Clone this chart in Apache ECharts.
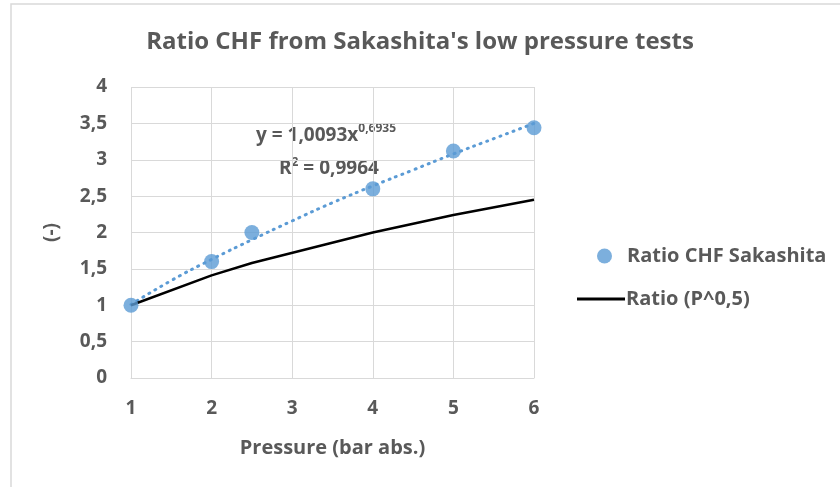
<!DOCTYPE html>
<html>
<head>
<meta charset="utf-8">
<script src="https://cdn.jsdelivr.net/npm/echarts@6/dist/echarts.min.js"></script>
<style>
html,body{margin:0;padding:0;background:#fff;}
#chart{width:840px;height:487px;}
</style>
</head>
<body>
<div id="chart"></div>
<script>
// measured points
const pressure = [1, 2, 2.5, 4, 5, 6]
const ratioChf = [1.0, 1.6, 2.0, 2.6, 3.12, 3.44]
// P^0.5 curve
const ratioSqrt = [1.0, 1.41, 1.58, 2.0, 2.24, 2.45]
// power trendline
const trendX = [1, 1.5, 2, 2.5, 3, 3.5, 4, 4.5, 5, 5.5, 6]
const trendY = [1.01, 1.34, 1.63, 1.9, 2.16, 2.41, 2.64, 2.86, 3.08, 3.29, 3.5]

const txt = '#595959'
const font = '"Open Sans", sans-serif'

const chart = echarts.init(document.getElementById('chart'))
chart.setOption({
  animation: false,
  title: {
    text: "Ratio CHF from Sakashita's low pressure tests",
    left: 'center',
    top: 25,
    textStyle: {color: txt, fontSize: 24, fontWeight: 'bold', fontFamily: font}
  },
  grid: {left: 131, right: 306, top: 87, bottom: 109},
  xAxis: {
    type: 'value',
    min: 1, max: 6, interval: 1,
    name: 'Pressure (bar abs.)',
    nameLocation: 'middle',
    nameGap: 60,
    nameTextStyle: {color: txt, fontSize: 20, fontWeight: 'bold', fontFamily: font},
    axisLine: {lineStyle: {color: '#d9d9d9'}},
    axisTick: {show: false},
    axisLabel: {color: txt, fontSize: 19, fontWeight: 'bold', fontFamily: font, margin: 21},
    splitLine: {lineStyle: {color: '#d9d9d9'}}
  },
  yAxis: {
    type: 'value',
    min: 0, max: 4, interval: 0.5,
    name: '(-)',
    nameLocation: 'middle',
    nameGap: 70,
    nameRotate: 90,
    nameTextStyle: {color: txt, fontSize: 19, fontWeight: 'bold', fontFamily: font},
    axisLine: {show: false},
    axisTick: {show: false},
    axisLabel: {
      color: txt, fontSize: 19, fontWeight: 'bold', fontFamily: font, margin: 24,
      formatter: v => String(v).replace('.', ',')
    },
    splitLine: {lineStyle: {color: '#d9d9d9'}}
  },
  legend: [
    {
      data: ['Ratio CHF Sakashita'],
      left: 592, top: 241,
      icon: 'circle',
      itemWidth: 15, itemHeight: 15, itemGap: 0,
      textStyle: {color: txt, fontSize: 20, fontWeight: 'bold', fontFamily: font, padding: [0, 0, 0, 10]}
    },
    {
      data: [{name: 'Ratio (P^0,5)', icon: 'rect'}],
      left: 572, top: 284,
      itemWidth: 48, itemHeight: 3,
      textStyle: {color: txt, fontSize: 20, fontWeight: 'bold', fontFamily: font, padding: [0, 0, 0, -4]}
    }
  ],
  graphic: [
    {
      type: 'rect', silent: true, z: -1,
      shape: {x: 11, y: 4, width: 900, height: 600},
      style: {fill: 'none', stroke: '#d9d9d9', lineWidth: 1.5}
    },
    {
      type: 'text', left: 256, top: 123, silent: true,
      style: {
        text: '{b|y = 1,0093x}{s|0,6935}',
        rich: {
          b: {fill: txt, fontSize: 19, fontWeight: 'bold', fontFamily: font, lineHeight: 26},
          s: {fill: txt, fontSize: 12, fontWeight: 'bold', fontFamily: font, lineHeight: 26, padding: [0, 0, 14, 0]}
        }
      }
    },
    {
      type: 'text', left: 279, top: 157, silent: true,
      style: {
        text: '{b|R}{s|2}{b| = 0,9964}',
        rich: {
          b: {fill: txt, fontSize: 19, fontWeight: 'bold', fontFamily: font, lineHeight: 26},
          s: {fill: txt, fontSize: 12, fontWeight: 'bold', fontFamily: font, lineHeight: 26, padding: [0, 0, 12, 0]}
        }
      }
    }
  ],
  series: [
    {
      name: 'Trend',
      type: 'line',
      data: trendX.map((x, i) => [x, trendY[i]]),
      smooth: true,
      symbol: 'none',
      lineStyle: {color: '#5b9bd5', width: 3, type: [1, 6], cap: 'round'},
      z: 2
    },
    {
      name: 'Ratio (P^0,5)',
      type: 'line',
      data: pressure.map((x, i) => [x, ratioSqrt[i]]),
      symbol: 'none',
      lineStyle: {color: '#000', width: 2.5},
      itemStyle: {color: '#000'},
      z: 3
    },
    {
      name: 'Ratio CHF Sakashita',
      type: 'scatter',
      data: pressure.map((x, i) => [x, ratioChf[i]]),
      symbolSize: 15,
      itemStyle: {color: '#5b9bd5'},
      z: 4
    }
  ]
})
</script>
</body>
</html>
